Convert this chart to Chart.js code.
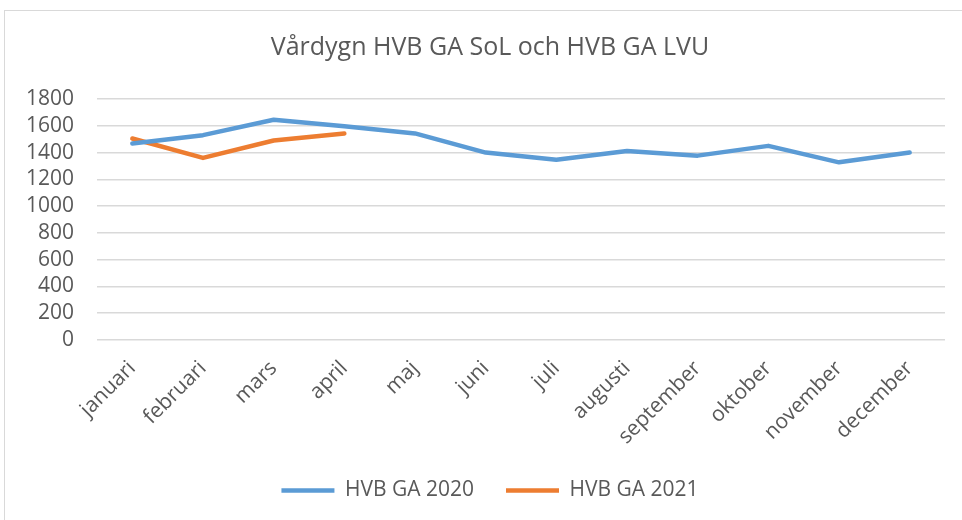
<!DOCTYPE html>
<html>
<head>
<meta charset="utf-8">
<script src="https://cdn.jsdelivr.net/npm/chart.js@4.4.0/dist/chart.umd.min.js"></script>
<style>
  body { margin: 0; background: #fff; }
  #frame { position: absolute; left: 4px; top: 10px; width: 1000px; height: 600px; border: 1px solid #d9d9d9; }
  #wrap { position: absolute; left: 0; top: 0; width: 962px; height: 520px; }
</style>
</head>
<body>
<div id="frame"></div>
<div id="wrap"><canvas id="lineChart" width="962" height="520"></canvas></div>
<script>
  // data
  const months = ['januari', 'februari', 'mars', 'april', 'maj', 'juni', 'juli', 'augusti', 'september', 'oktober', 'november', 'december'];
  const hvb2020 = [1467, 1530, 1645, 1597, 1543, 1400, 1347, 1412, 1377, 1450, 1327, 1400];
  const hvb2021 = [1505, 1360, 1490, 1543];
  const yMin = 0, yMax = 1800, yStep = 200;

  const textColor = '#595959';
  const gridColor = '#d9d9d9';
  Chart.defaults.font.family = '"Open Sans", sans-serif';
  Chart.defaults.color = textColor;

  const ctx = document.getElementById('lineChart').getContext('2d');
  new Chart(ctx, {
    type: 'line',
    data: {
      labels: months,
      datasets: [
        {
          label: 'HVB GA 2020',
          data: hvb2020,
          borderColor: '#5b9bd5',
          backgroundColor: '#5b9bd5',
          borderWidth: 4.5,
          borderCapStyle: 'round',
          borderJoinStyle: 'round',
          pointRadius: 0,
          tension: 0
        },
        {
          label: 'HVB GA 2021',
          data: hvb2021,
          borderColor: '#ed7d31',
          backgroundColor: '#ed7d31',
          borderWidth: 4.5,
          borderCapStyle: 'round',
          borderJoinStyle: 'round',
          pointRadius: 0,
          tension: 0
        }
      ]
    },
    options: {
      responsive: false,
      animation: false,
      layout: { padding: { left: 18, right: 0, top: 0, bottom: 9 } },
      scales: {
        x: {
          offset: true,
          grid: { display: false },
          border: { display: false },
          ticks: {
            font: { size: 21 },
            color: textColor,
            minRotation: 45,
            maxRotation: 45,
            autoSkip: false,
            padding: 8
          },
          afterFit: scale => { scale.height = 108; }
        },
        y: {
          min: yMin,
          max: yMax,
          grid: { color: gridColor, lineWidth: 1.5, drawTicks: false },
          border: { display: false },
          ticks: {
            stepSize: yStep,
            autoSkip: false,
            font: { size: 21 },
            color: textColor,
            padding: 23,
            callback: v => String(v)
          },
          afterFit: scale => { scale.width = 79; }
        },
        yRight: {
          position: 'right',
          grid: { display: false },
          border: { display: false },
          ticks: { display: false },
          afterFit: scale => { scale.width = 17; }
        }
      },
      plugins: {
        title: {
          display: true,
          text: 'Vårdygn HVB GA SoL och HVB GA LVU',
          color: textColor,
          font: { size: 25, weight: 'normal' },
          padding: { top: 33, bottom: 36 }
        },
        legend: {
          position: 'bottom',
          labels: {
            usePointStyle: true,
            pointStyle: 'line',
            pointStyleWidth: 53,
            font: { size: 21 },
            color: textColor,
            padding: 32
          }
        },
        tooltip: { enabled: false }
      }
    }
  });
</script>
</body>
</html>
